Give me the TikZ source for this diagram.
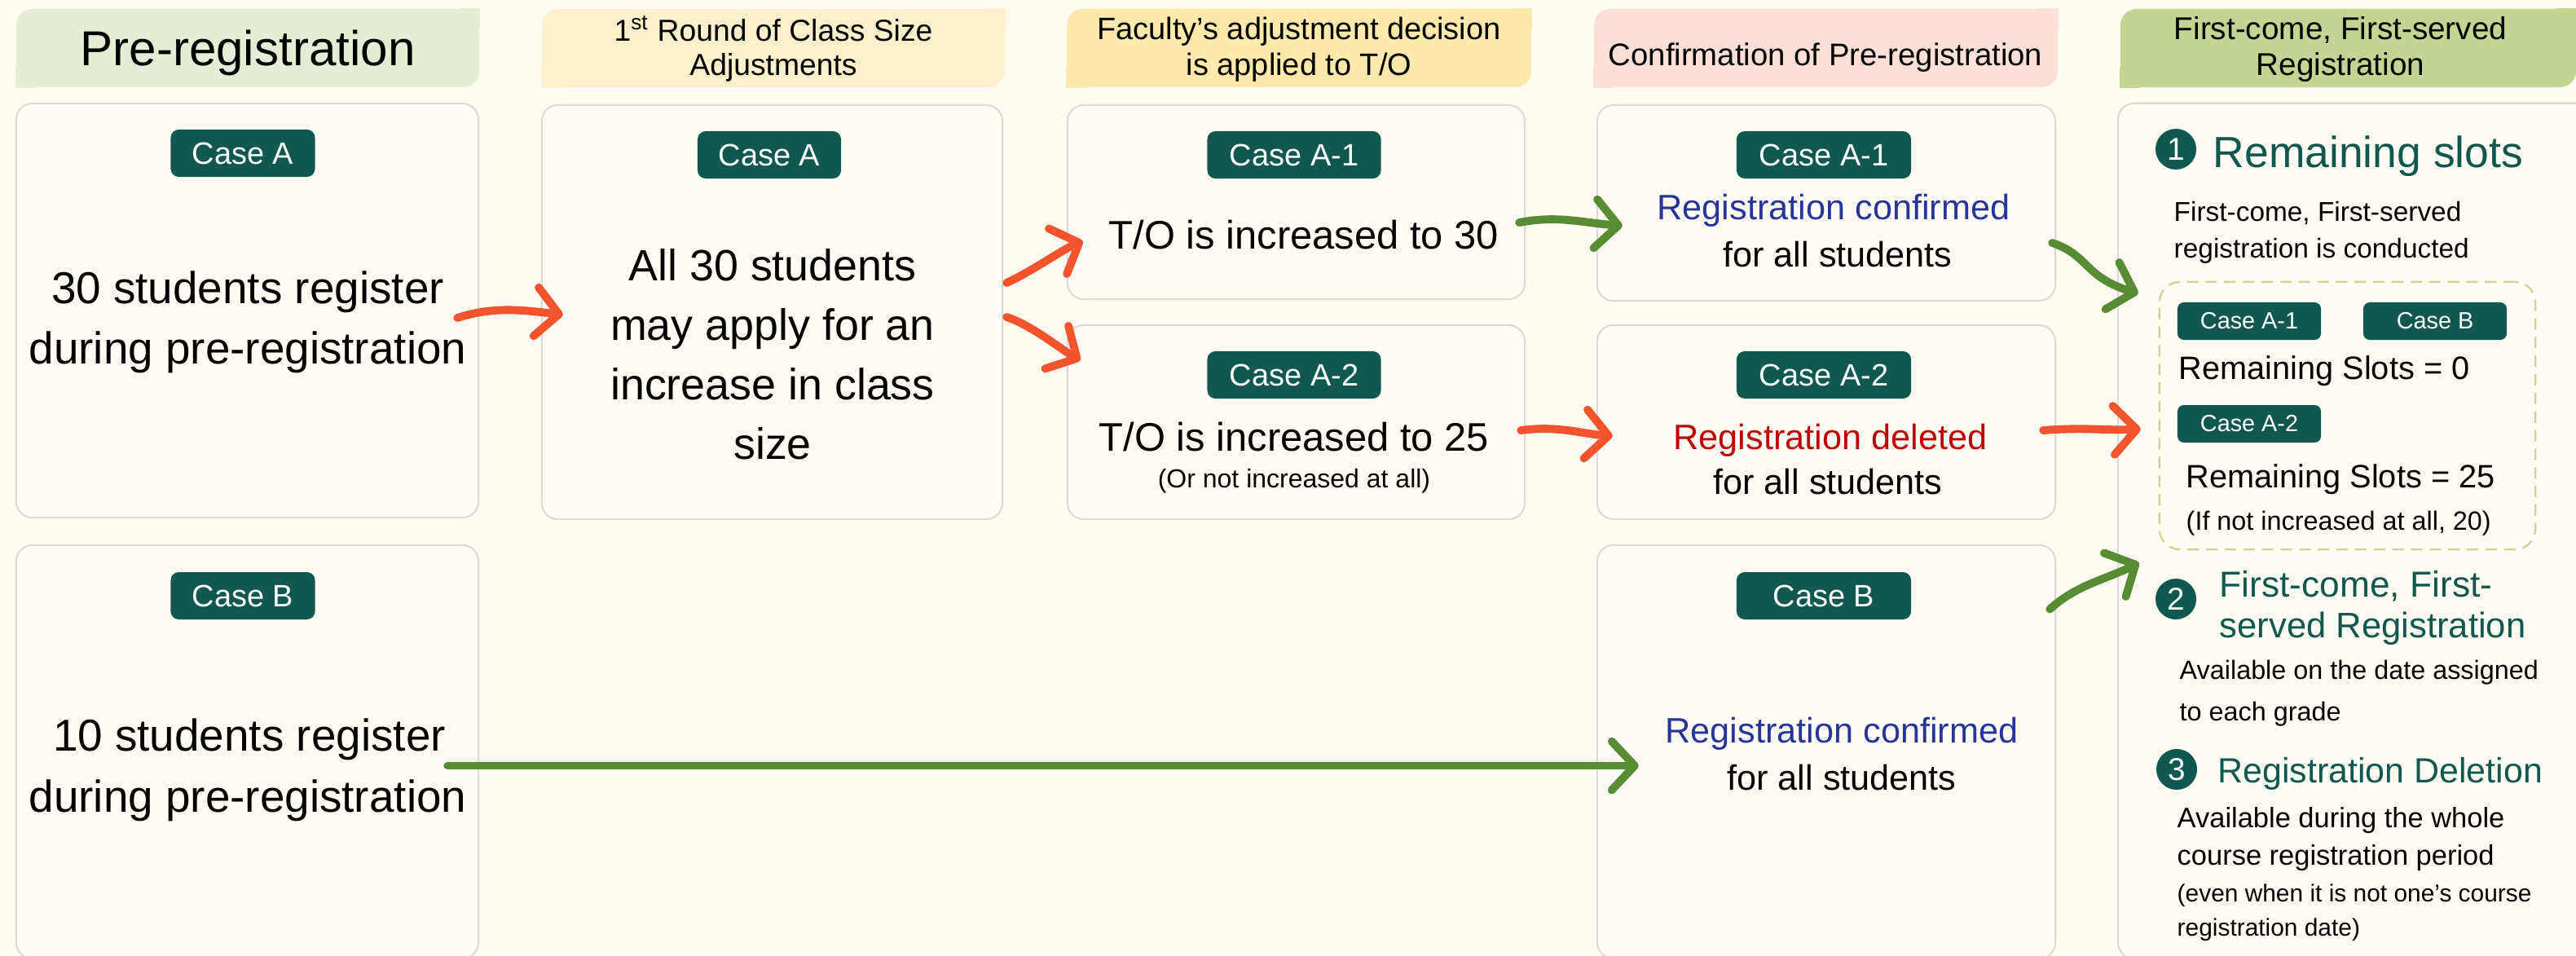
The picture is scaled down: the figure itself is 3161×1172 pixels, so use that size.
\documentclass[tikz,border=0pt]{standalone}
\usepackage{fontspec}
\setmainfont{Liberation Sans}
\usetikzlibrary{arrows.meta,calc}
\definecolor{bg}{RGB}{254,251,242}
\definecolor{boxfill}{RGB}{255,252,245}
\definecolor{boxgray}{RGB}{218,218,216}
\definecolor{dkgreen}{RGB}{16,88,78}
\definecolor{arrorange}{RGB}{243,84,45}
\definecolor{arrgreen}{RGB}{88,140,52}
\definecolor{txtblue}{RGB}{40,52,150}
\definecolor{txtred}{RGB}{192,0,0}
\definecolor{dashgreen}{RGB}{197,216,150}
\definecolor{hA}{RGB}{230,237,213}
\definecolor{hB}{RGB}{254,240,205}
\definecolor{hC}{RGB}{253,233,172}
\definecolor{hD}{RGB}{252,224,215}
\definecolor{hE}{RGB}{195,212,147}
\newcommand{\myfs}[1]{\fontsize{#1}{#1}\selectfont}
\begin{document}
\begin{tikzpicture}[x=0.01cm,y=-0.01cm,
  box/.style={draw=boxgray, line width=0.6pt, fill=boxfill, rounded corners=0.2cm, inner sep=0pt},
  hdr/.style={inner sep=0pt, rounded corners=0.2cm, minimum height=0.96cm},
  badge/.style={fill=dkgreen, text=white, rounded corners=0.1cm, inner sep=0pt, minimum height=0.58cm, font=\myfs{10.8}},
  sbadge/.style={fill=dkgreen, text=white, rounded corners=0.08cm, inner sep=0pt, minimum height=0.46cm, minimum width=1.76cm, font=\myfs{8.2}},
  txt/.style={inner sep=0pt, anchor=base},
  ltxt/.style={inner sep=0pt, anchor=base west},
  num/.style={circle, fill=dkgreen, text=white, inner sep=0pt, minimum size=0.5cm, font=\myfs{11}},
  oarrow/.style={draw=arrorange, line width=2.8pt, line cap=round, -{Straight Barb[length=8pt,width=17pt,round]}},
  garrow/.style={draw=arrgreen, line width=2.8pt, line cap=round, -{Straight Barb[length=8pt,width=17pt,round]}}
]
\fill[bg] (0,0) rectangle (3161,1172);
\useasboundingbox (0,0) rectangle (3161,1172);
\clip (0,0) rectangle (3161,1172);

% ---------- headers ----------
\node[hdr, fill=hA, minimum width=5.68cm] (h1) at (304,59) {};
\fill[hA] (h1.north east) rectangle ++(-25,25);
\fill[hA] (h1.south west) rectangle ++(25,-25);
\node[txt, font=\myfs{17.1}] (h1t) at (304,80) {Pre-registration};

\node[hdr, fill=hB, minimum width=5.68cm] (h2) at (949,59) {};
\fill[hB] (h2.north east) rectangle ++(-25,25);
\fill[hB] (h2.south west) rectangle ++(25,-25);
\node[txt, font=\myfs{10.6}] (h2t1) at (949,50) {1\textsuperscript{st} Round of Class Size};
\node[txt, font=\myfs{10.6}] (h2t2) at (949,92) {Adjustments};

\node[hdr, fill=hC, minimum width=5.70cm] (h3) at (1594,59) {};
\fill[hC] (h3.north east) rectangle ++(-25,25);
\fill[hC] (h3.south west) rectangle ++(25,-25);
\node[txt, font=\myfs{10.8}] (h3t1) at (1594,48) {Faculty’s adjustment decision};
\node[txt, font=\myfs{10.8}] (h3t2) at (1594,92) {is applied to T/O};

\node[hdr, fill=hD, minimum width=5.69cm] (h4) at (2240.5,59) {};
\fill[hD] (h4.north east) rectangle ++(-25,25);
\fill[hD] (h4.south west) rectangle ++(25,-25);
\node[txt, font=\myfs{10.9}] (h4t) at (2240,80) {Confirmation of Pre-registration};

\node[hdr, fill=hE, minimum width=5.59cm] (h5) at (2881.5,59) {};
\fill[hE] (h5.north east) rectangle ++(-25,25);
\fill[hE] (h5.south west) rectangle ++(25,-25);
\node[txt, font=\myfs{11}] (h5t1) at (2872,48) {First-come, First-served};
\node[txt, font=\myfs{11}] (h5t2) at (2872,92) {Registration};

% ---------- boxes ----------
\node[box, minimum width=5.67cm, minimum height=5.08cm] (b1a) at (303.5,381) {};
\node[box, minimum width=5.67cm, minimum height=5.07cm] (b1b) at (303.5,922.5) {};
\node[box, minimum width=5.65cm, minimum height=5.08cm] (b2) at (947.5,383) {};
\node[box, minimum width=5.61cm, minimum height=2.38cm] (b3a) at (1590.5,248) {};
\node[box, minimum width=5.61cm, minimum height=2.38cm] (b3b) at (1590.5,518) {};
\node[box, minimum width=5.62cm, minimum height=2.40cm] (b4a) at (2241,249) {};
\node[box, minimum width=5.62cm, minimum height=2.38cm] (b4b) at (2241,518) {};
\node[box, minimum width=5.62cm, minimum height=5.07cm] (b4c) at (2241,922.5) {};
\node[box, minimum width=5.91cm, minimum height=10.49cm] (b5) at (2894.5,651.5) {};

% ---------- column 1 ----------
\node[badge, minimum width=1.77cm] (k1a) at (298,188) {Case A};
\node[txt, font=\myfs{15.6}] (t1a1) at (304,372) {30 students register};
\node[txt, font=\myfs{15.6}] (t1a2) at (304,446) {during pre-registration};
\node[badge, minimum width=1.77cm] (k1b) at (298,731) {Case B};
\node[txt, font=\myfs{15.6}] (t1b1) at (306,921) {10 students register};
\node[txt, font=\myfs{15.6}] (t1b2) at (304,996) {during pre-registration};

% ---------- column 2 ----------
\node[badge, minimum width=1.76cm] (k2) at (944,190) {Case A};
\node[txt, font=\myfs{15.3}] (t21) at (948,344) {All 30 students};
\node[txt, font=\myfs{15.3}] (t22) at (948,417) {may apply for an};
\node[txt, font=\myfs{15.3}] (t23) at (948,490) {increase in class};
\node[txt, font=\myfs{15.3}] (t24) at (948,563) {size};

% ---------- column 3 ----------
\node[badge, minimum width=2.13cm] (k3a) at (1588,190) {Case A-1};
\node[txt, font=\myfs{13.9}] (t3a) at (1600,305) {T/O is increased to 30};
\node[badge, minimum width=2.13cm] (k3b) at (1588,460) {Case A-2};
\node[txt, font=\myfs{13.9}] (t3b) at (1588,553) {T/O is increased to 25};
\node[txt, font=\myfs{9.1}] (t3c) at (1588,598) {(Or not increased at all)};

% ---------- column 4 ----------
\node[badge, minimum width=2.14cm] (k4a) at (2238,190) {Case A-1};
\node[txt, font=\myfs{12.3}, text=txtblue] (t4a1) at (2250,269) {Registration confirmed};
\node[txt, font=\myfs{12.3}] (t4a2) at (2255,327) {for all students};
\node[badge, minimum width=2.14cm] (k4b) at (2238,460) {Case A-2};
\node[txt, font=\myfs{12.3}, text=txtred] (t4b1) at (2246,551) {Registration deleted};
\node[txt, font=\myfs{12.3}] (t4b2) at (2243,606) {for all students};
\node[badge, minimum width=2.14cm] (k4c) at (2238,731) {Case B};
\node[txt, font=\myfs{12.3}, text=txtblue] (t4c1) at (2260,911) {Registration confirmed};
\node[txt, font=\myfs{12.3}] (t4c2) at (2260,969) {for all students};

% ---------- column 5 ----------
\node[num] (n1) at (2670,183) {1};
\node[ltxt, font=\myfs{15.2}, text=dkgreen] (r1) at (2715,205) {Remaining slots};
\node[ltxt, font=\myfs{9.5}] (r1a) at (2667,271) {First-come, First-served};
\node[ltxt, font=\myfs{9.5}] (r1b) at (2667,316) {registration is conducted};
\node[draw=dashgreen, dashed, dash pattern=on 4pt off 2.5pt, line width=0.7pt, rounded corners=0.25cm, minimum width=4.61cm, minimum height=3.28cm, inner sep=0pt] (dbox) at (2880.5,510) {};
\node[sbadge] (s1) at (2760,394) {Case A-1};
\node[sbadge] (s2) at (2988,394) {Case B};
\node[ltxt, font=\myfs{11.3}] (rs0) at (2673,465) {Remaining Slots = 0};
\node[sbadge] (s3) at (2760,520) {Case A-2};
\node[ltxt, font=\myfs{11.3}] (rs25) at (2682,598) {Remaining Slots = 25};
\node[ltxt, font=\myfs{9.2}] (rs20) at (2682,650) {(If not increased at all, 20)};
\node[num] (n2) at (2670,735) {2};
\node[ltxt, font=\myfs{12.6}, text=dkgreen] (r2a) at (2723,732) {First-come, First-};
\node[ltxt, font=\myfs{12.4}, text=dkgreen] (r2b) at (2723,782) {served Registration};
\node[ltxt, font=\myfs{9.2}] (r2c) at (2674,833) {Available on the date assigned};
\node[ltxt, font=\myfs{9.2}] (r2d) at (2674,884) {to each grade};
\node[num] (n3) at (2671,944) {3};
\node[ltxt, font=\myfs{12.2}, text=dkgreen] (r3a) at (2721,960) {Registration Deletion};
\node[ltxt, font=\myfs{9.8}] (r3b) at (2671,1015) {Available during the whole};
\node[ltxt, font=\myfs{9.8}] (r3c) at (2671,1061) {course registration period};
\node[ltxt, font=\myfs{8.5}] (r3d) at (2671,1106) {(even when it is not one’s course};
\node[ltxt, font=\myfs{8.5}] (r3e) at (2671,1148) {registration date)};

% ---------- arrows ----------
\draw[oarrow] ($(b1a.east)+(-27,9)$) .. controls ($(b1a.east)+(20,-6)$) and ($(b2.west)+(-20,-2)$) .. ($(b2.west)+(27,3)$);
\draw[oarrow] ($(b2.east)+(4,-36)$) .. controls ($(b2.east)+(35,-50)$) and ($(b3a.west)+(-5,58)$) .. ($(b3a.west)+(20,48)$);
\draw[oarrow] ($(b2.east)+(4,6)$) .. controls ($(b2.east)+(35,16)$) and ($(b3b.west)+(-5,-88)$) .. ($(b3b.west)+(17,-76)$);
\draw[oarrow] ($(b3b.east)+(-6,10)$) .. controls ($(b3b.east)+(40,4)$) and ($(b4b.west)+(-20,14)$) .. ($(b4b.west)+(20,17)$);
\draw[oarrow] ($(b4b.east)+(-16,10)$) .. controls ($(b4b.east)+(40,6)$) and ($(b5.west)+(-20,-123)$) .. ($(b5.west)+(29,-125)$);
\draw[garrow] ($(b3a.east)+(-8,25)$) .. controls ($(b3a.east)+(40,16)$) and ($(b4a.west)+(-20,24)$) .. ($(b4a.west)+(32,28)$);
\draw[garrow] ($(b4a.east)+(-5,49)$) .. controls ($(b4a.east)+(40,64)$) and ($(b5.west)+(-40,-311)$) .. ($(b5.west)+(26,-291.5)$);
\draw[garrow] ($(b1b.east)+(-39,17)$) -- ($(b4c.west)+(52,17)$);
\draw[garrow] ($(b4c.east)+(-8,-175)$) .. controls ($(b4c.east)+(25,-205)$) and ($(b5.west)+(-15,60)$) .. ($(b5.west)+(27,39)$);
\end{tikzpicture}
\end{document}
